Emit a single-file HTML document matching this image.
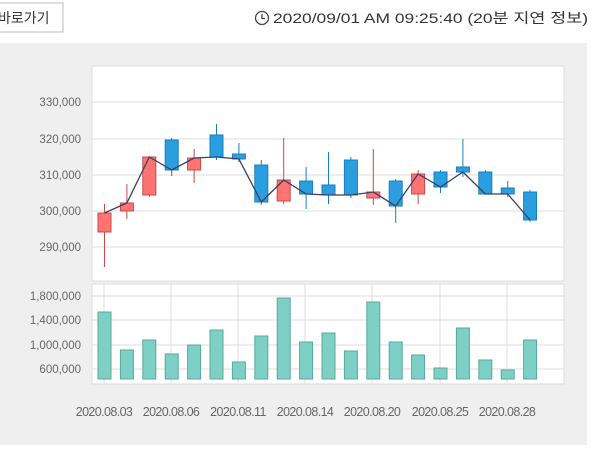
<!DOCTYPE html>
<html><head><meta charset="utf-8"><style>
body{margin:0;width:600px;height:445px;overflow:hidden;background:#fff;font-family:"Liberation Sans","Noto Sans CJK KR",sans-serif;}
</style></head><body>
<svg id="s" width="600" height="445" xmlns="http://www.w3.org/2000/svg" font-family="Liberation Sans, Noto Sans CJK KR, sans-serif">
<rect x="-2" y="3" width="65" height="29" fill="#fff" stroke="#bbb"/>
<text x="-2" y="23" font-size="14" fill="#333">바로가기</text>
<circle cx="262" cy="18" r="6.5" fill="none" stroke="#444" stroke-width="1.3"/>
<path d="M262 14v4.5h3" fill="none" stroke="#444" stroke-width="1.3"/>
<text x="273" y="23" font-size="14" fill="#333" textLength="315" lengthAdjust="spacingAndGlyphs">2020/09/01 AM 09:25:40 (20분 지연 정보)</text>
<rect x="0" y="43" width="587" height="402" fill="#efefef"/>
<rect x="587" y="43" width="13" height="402" fill="#fff"/>
<rect x="92" y="66" width="472" height="215" fill="#fff" stroke="#ddd"/>
<rect x="92" y="284" width="472" height="100" fill="#fff" stroke="#ddd"/>
<g id="g"></g>
</svg>
<script>
var g=document.getElementById('g'),h='';
function ln(x1,y1,x2,y2,c,w){h+='<line x1="'+x1+'" y1="'+y1+'" x2="'+x2+'" y2="'+y2+'" stroke="'+c+'" stroke-width="'+(w||1)+'"/>';}
[[102,'330,000'],[139,'320,000'],[175,'310,000'],[211,'300,000'],[247,'290,000']].forEach(function(a){ln(92,a[0],564,a[0],'#ddd');h+='<text x="81" y="'+(a[0]+4)+'" font-size="11.5" text-anchor="end" fill="#666">'+a[1]+'</text>';});
[[296,'1,800,000'],[320,'1,400,000'],[345,'1,000,000'],[369,'600,000']].forEach(function(a){ln(92,a[0],564,a[0],'#ddd');h+='<text x="81" y="'+(a[0]+4)+'" font-size="11.5" text-anchor="end" fill="#666">'+a[1]+'</text>';});
var vx=[104,171,238,305,372,440,507],lb=['2020.08.03','2020.08.06','2020.08.11','2020.08.14','2020.08.20','2020.08.25','2020.08.28'];
vx.forEach(function(x,i){ln(x,284,x,384,'#ddd');h+='<text x="'+x+'" y="416" font-size="12.5" text-anchor="middle" fill="#666" letter-spacing="-0.6">'+lb[i]+'</text>';});
var C=[['r',213,232,204,267],['r',203,211,184,219],['r',157,195,157,197],['b',140,170,138,176],['r',158,170,149,183],['b',135,157,124,160],['b',154,159,143,162],['b',165,202,160,205],['r',180,201,138,204],['b',181,194,167,209],['b',185,195,152,204],['b',160,195,157,198],['r',192,198,149,205],['b',181,206,179,223],['r',174,194,170,204],['b',172,187,170,193],['b',167,172,139,177],['b',172,194,170,194],['b',188,194,181,197],['b',192,220,190,222]];
var V=[312,350,340,354,345,330,362,336,298,342,333,351,302,342,355,368,328,360,370,340];
var pts=[];
C.forEach(function(c,i){var x=104.5+i*22.4;
 var red=c[0]=='r';var col=red?'#c94a4a':'#1a7fbf',fill=red?'#ff7373':'#2b9ee0';
 ln(x,c[3],x,c[4],col);
 h+='<rect x="'+(x-6.5)+'" y="'+c[1]+'" width="13" height="'+Math.max(c[2]-c[1],3)+'" fill="'+fill+'" stroke="'+col+'"/>';
 pts.push(x+','+(red?c[1]:c[2]));
 h+='<rect x="'+(x-6.5)+'" y="'+V[i]+'" width="13" height="'+(379-V[i])+'" fill="#7dd0c5" stroke="#5aa79c"/>';
});
h+='<polyline points="'+pts.join(' ')+'" fill="none" stroke="#3b3f66" stroke-width="1.3"/>';
g.innerHTML=h;
</script>
</body></html>
